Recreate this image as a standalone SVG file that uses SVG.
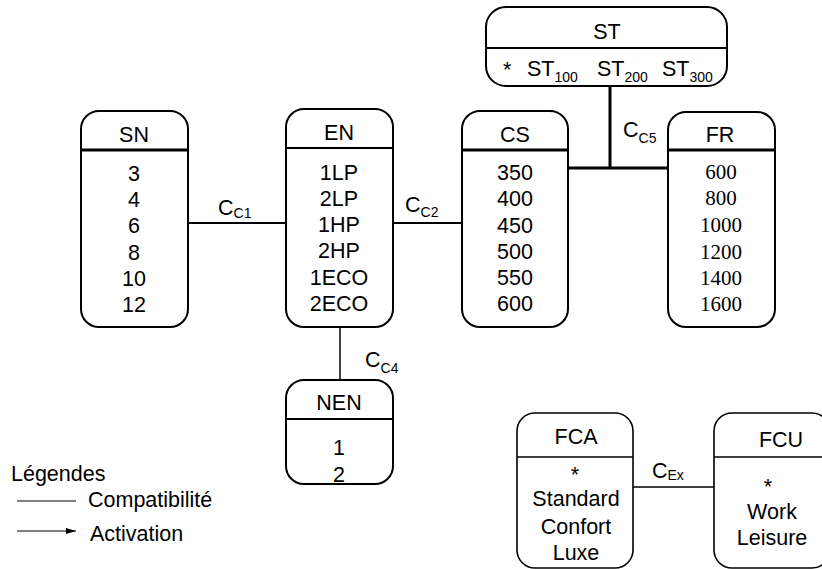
<svg xmlns="http://www.w3.org/2000/svg" width="822" height="569" viewBox="0 0 822 569">
<defs>
<style>
.box{fill:#fff;stroke:#000;stroke-width:2}
.box2{fill:#fff;stroke:#000;stroke-width:1.6}
.hd{stroke:#000;stroke-width:2}
.hdb{stroke:#000;stroke-width:3}
.t{font-family:"Liberation Sans",Arial,sans-serif;font-size:21.5px;fill:#000;text-anchor:middle}
.tl{font-family:"Liberation Sans",Arial,sans-serif;font-size:21.5px;fill:#000}
.ts{font-family:"Liberation Serif","Times New Roman",serif;font-size:21px;fill:#000;text-anchor:middle}
.sub{font-size:14px}
.c{stroke:#000;stroke-width:2;fill:none}
.cb{stroke:#000;stroke-width:3;fill:none}
.cl{stroke:#000;stroke-width:1.5;fill:none}
.lg{stroke:#000;stroke-width:1;fill:none}
</style>
<marker id="arr" viewBox="0 0 10 6" refX="10" refY="3" markerWidth="10" markerHeight="6" markerUnits="userSpaceOnUse" orient="auto">
<path d="M0,0 L10,3 L0,6 Z" fill="#000"/>
</marker>
</defs>

<g id="connectors">
<line class="c" x1="188" y1="223" x2="286" y2="223"/>
<line class="c" x1="393" y1="223" x2="462" y2="223"/>
<line class="cb" x1="568" y1="168" x2="668" y2="168"/>
<line class="cb" x1="610" y1="86" x2="610" y2="168"/>
<line class="cl" x1="340" y1="327" x2="340" y2="380"/>
<line class="cl" x1="630" y1="487" x2="716" y2="487"/>
<text class="tl" x="218" y="215">C<tspan class="sub" dy="3">C1</tspan></text>
<text class="tl" x="405" y="212">C<tspan class="sub" dy="5">C2</tspan></text>
<text class="tl" x="623" y="137">C<tspan class="sub" dy="6">C5</tspan></text>
<text class="tl" x="365" y="367">C<tspan class="sub" dy="6">C4</tspan></text>
<text class="tl" x="652" y="478">C<tspan class="sub" dy="2">Ex</tspan></text>
</g>

<g id="ST">
<rect class="box" x="486" y="7" width="241" height="79" rx="20"/>
<line class="hd" x1="486" y1="48" x2="727" y2="48"/>
<text class="t" x="607" y="39">ST</text>
<text class="tl" x="503" y="77">*</text>
<text class="tl" x="527" y="76">ST<tspan class="sub" dy="6">100</tspan></text>
<text class="tl" x="597" y="76">ST<tspan class="sub" dy="6">200</tspan></text>
<text class="tl" x="662" y="76">ST<tspan class="sub" dy="6">300</tspan></text>
</g>

<g id="SN">
<rect class="box" x="81" y="111" width="107" height="216" rx="18"/>
<line class="hdb" x1="81" y1="150" x2="188" y2="150"/>
<text class="t" x="134" y="142">SN</text>
<text class="t" x="134" y="181">3</text>
<text class="t" x="134" y="207">4</text>
<text class="t" x="134" y="233">6</text>
<text class="t" x="134" y="260">8</text>
<text class="t" x="134" y="286">10</text>
<text class="t" x="134" y="312">12</text>
</g>

<g id="EN">
<rect class="box" x="286" y="109" width="107" height="218" rx="18"/>
<line class="hd" x1="286" y1="148" x2="393" y2="148"/>
<text class="t" x="339" y="140">EN</text>
<text class="t" x="339" y="180">1LP</text>
<text class="t" x="339" y="206">2LP</text>
<text class="t" x="339" y="232">1HP</text>
<text class="t" x="339" y="258">2HP</text>
<text class="t" x="339" y="285">1ECO</text>
<text class="t" x="339" y="311">2ECO</text>
</g>

<g id="CS">
<rect class="box" x="462" y="111" width="106" height="216" rx="18"/>
<line class="hdb" x1="462" y1="150" x2="568" y2="150"/>
<text class="t" x="515" y="142">CS</text>
<text class="t" x="515" y="180">350</text>
<text class="t" x="515" y="206">400</text>
<text class="t" x="515" y="233">450</text>
<text class="t" x="515" y="259">500</text>
<text class="t" x="515" y="285">550</text>
<text class="t" x="515" y="311">600</text>
</g>

<g id="FR">
<rect class="box" x="668" y="112" width="107" height="215" rx="18"/>
<line class="hdb" x1="668" y1="150" x2="775" y2="150"/>
<text class="t" x="720" y="142">FR</text>
<text class="ts" x="721" y="179">600</text>
<text class="ts" x="721" y="205">800</text>
<text class="ts" x="721" y="232">1000</text>
<text class="ts" x="721" y="259">1200</text>
<text class="ts" x="721" y="285">1400</text>
<text class="ts" x="721" y="311">1600</text>
</g>

<g id="NEN">
<rect class="box" x="286" y="380" width="107" height="104" rx="18"/>
<line class="hd" x1="286" y1="419" x2="393" y2="419"/>
<text class="t" x="339" y="410">NEN</text>
<text class="t" x="339" y="455">1</text>
<text class="t" x="339" y="482">2</text>
</g>

<g id="FCA">
<rect class="box2" x="517" y="413" width="116" height="155" rx="18"/>
<line class="cl" x1="517" y1="457" x2="633" y2="457"/>
<text class="t" x="576" y="444">FCA</text>
<text class="t" x="575" y="482">*</text>
<text class="t" x="576" y="506">Standard</text>
<text class="t" x="576" y="534">Confort</text>
<text class="t" x="576" y="560">Luxe</text>
</g>

<g id="FCU">
<rect class="box2" x="714" y="413" width="116" height="155" rx="18"/>
<line class="cl" x1="714" y1="457" x2="830" y2="457"/>
<text class="t" x="781" y="447">FCU</text>
<text class="t" x="768" y="494">*</text>
<text class="t" x="772" y="519">Work</text>
<text class="t" x="772" y="545">Leisure</text>
</g>

<g id="legend">
<text class="tl" x="11" y="481">Légendes</text>
<line class="lg" x1="17" y1="501" x2="76" y2="501"/>
<text class="tl" x="88" y="507">Compatibilité</text>
<line class="lg" x1="17" y1="531" x2="76" y2="531" marker-end="url(#arr)"/>
<text class="tl" x="90" y="541">Activation</text>
</g>
</svg>
